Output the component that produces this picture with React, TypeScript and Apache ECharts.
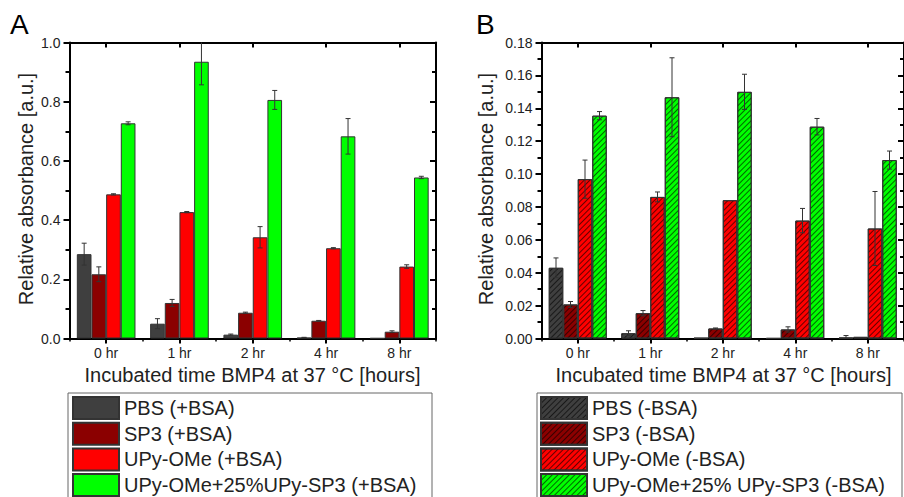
import React, { useEffect, useRef } from "react";
import * as echarts from "echarts";

const categories = ["0 hr", "1 hr", "2 hr", "4 hr", "8 hr"];

// Panel A (+BSA)
const namesA = ["PBS (+BSA)", "SP3 (+BSA)", "UPy-OMe (+BSA)", "UPy-OMe+25%UPy-SP3 (+BSA)"];
const pbsPlus = [0.285, 0.05, 0.013, 0.003, 0.001];
const pbsPlusErr = [0.037, 0.017, 0.002, 0.001, 0];
const sp3Plus = [0.217, 0.12, 0.087, 0.06, 0.023];
const sp3PlusErr = [0.025, 0.012, 0.002, 0.001, 0.003];
const upyPlus = [0.487, 0.427, 0.342, 0.305, 0.243];
const upyPlusErr = [0.002, 0.002, 0.036, 0.002, 0.006];
const mixPlus = [0.727, 0.935, 0.806, 0.683, 0.544];
const mixPlusErr = [0.005, 0.078, 0.032, 0.06, 0.004];

// Panel B (-BSA)
const namesB = ["PBS (-BSA)", "SP3 (-BSA)", "UPy-OMe (-BSA)", "UPy-OMe+25% UPy-SP3 (-BSA)"];
const pbsMinus = [0.043, 0.0032, 0.0003, 0.0001, 0.0005];
const pbsMinusErr = [0.006, 0.0015, 0, 0, 0.0013];
const sp3Minus = [0.0207, 0.0154, 0.0061, 0.0055, 0.001];
const sp3MinusErr = [0.0018, 0.0016, 0.0003, 0.0016, 0];
const upyMinus = [0.0969, 0.0861, 0.0841, 0.0717, 0.0669];
const upyMinusErr = [0.0116, 0.003, 0, 0.0074, 0.0225];
const mixMinus = [0.1355, 0.1467, 0.15, 0.1288, 0.1085];
const mixMinusErr = [0.0025, 0.024, 0.0107, 0.005, 0.0055];

const ticksA = { min: 0, max: 1.0, interval: 0.2 };
const ticksB = { min: 0, max: 0.18, interval: 0.02 };

const colors = ["#3f3f3f", "#8b0000", "#ff0000", "#00ff00"];
const FONT = "'Liberation Sans', Arial, sans-serif";
const TXT = "#222";

export default function App() {
  const ref = useRef<HTMLDivElement>(null);
  useEffect(() => {
    if (!ref.current) return;
    const chart = echarts.init(ref.current, null, { renderer: "svg" });

    const valsA = [pbsPlus, sp3Plus, upyPlus, mixPlus];
    const errsA = [pbsPlusErr, sp3PlusErr, upyPlusErr, mixPlusErr];
    const valsB = [pbsMinus, sp3Minus, upyMinus, mixMinus];
    const errsB = [pbsMinusErr, sp3MinusErr, upyMinusErr, mixMinusErr];

    const grids = [
      { left: 69.5, top: 42.5, width: 366.5, height: 296 },
      { left: 541.5, top: 42.5, width: 367, height: 296 },
    ];

    const xAxes: any[] = [];
    const yAxes: any[] = [];
    [0, 1].forEach((g) => {
      xAxes.push({
        type: "category", gridIndex: g, position: "bottom", data: categories,
        axisLine: { show: true, lineStyle: { color: "#000", width: 2 } },
        axisTick: { show: true, alignWithLabel: true, length: 5, lineStyle: { color: "#000", width: 2 } },
        axisLabel: { fontSize: 14, color: TXT, fontFamily: FONT, margin: 7 },
      });
      xAxes.push({
        type: "category", gridIndex: g, position: "bottom", data: categories,
        axisLine: { show: false },
        axisTick: { show: true, length: 3, lineStyle: { color: "#000", width: 1.5 } },
        axisLabel: { show: false },
      });
      xAxes.push({
        type: "category", gridIndex: g, position: "top", data: categories,
        axisLine: { show: true, lineStyle: { color: "#000", width: 2 } },
        axisTick: { show: true, inside: true, alignWithLabel: true, length: 5, lineStyle: { color: "#000", width: 2 } },
        axisLabel: { show: false },
      });
      const t = g === 0 ? ticksA : ticksB;
      const dec = g === 0 ? 1 : 2;
      yAxes.push({
        type: "value", gridIndex: g, position: "left", ...t,
        axisLine: { show: true, lineStyle: { color: "#000", width: 2 } },
        axisTick: { show: true, length: 6, lineStyle: { color: "#000", width: 2 } },
        minorTick: { show: true, splitNumber: 2, length: 4, lineStyle: { color: "#000", width: 2 } },
        splitLine: { show: false },
        axisLabel: { fontSize: 14, color: TXT, fontFamily: FONT, margin: 9, formatter: (v: number) => v.toFixed(dec) },
      });
      yAxes.push({
        type: "value", gridIndex: g, position: "right", ...t,
        axisLine: { show: true, lineStyle: { color: "#000", width: 2 } },
        axisTick: { show: true, inside: true, length: 6, lineStyle: { color: "#000", width: 2 } },
        minorTick: { show: true, splitNumber: 2, length: 4, lineStyle: { color: "#000", width: 2 } },
        splitLine: { show: false },
        axisLabel: { show: false },
      });
    });

    const series: any[] = [];
    const makeBars = (g: number, names: string[], vals: number[][], hatched: boolean) => {
      names.forEach((n, i) => {
        series.push({
          type: "bar", name: n, xAxisIndex: g * 3, yAxisIndex: g * 2,
          data: vals[i], barGap: "0%", barCategoryGap: "20%",
          itemStyle: {
            color: colors[i], borderColor: "#333", borderWidth: 1,
            decal: hatched
              ? { symbol: "rect", symbolSize: 1, dashArrayX: [1, 0], dashArrayY: [1, 2.6], rotation: -Math.PI / 4, color: "rgba(0,0,0,0.6)" }
              : undefined,
          },
        });
      });
    };
    makeBars(0, namesA, valsA, false);
    makeBars(1, namesB, valsB, true);

    const makeErr = (g: number, vals: number[][], errs: number[][]) => {
      const data: number[][] = [];
      vals.forEach((arr, s) => arr.forEach((v, c) => {
        if (errs[s][c] > 0) data.push([c, v, errs[s][c], s]);
      }));
      series.push({
        type: "custom", xAxisIndex: g * 3, yAxisIndex: g * 2, clip: true, z: 5,
        encode: { x: 0, y: 1 }, data,
        renderItem: (params: any, api: any) => {
          const c = api.value(0), v = api.value(1), e = api.value(2), s = api.value(3);
          const band = api.size([1, 0])[0];
          const bw = (band * 0.8) / 4;
          const x = api.coord([c, v])[0] + (s - 1.5) * bw;
          const yT = api.coord([c, v + e])[1];
          const yB = api.coord([c, Math.max(0, v - e)])[1];
          const st = { stroke: "#333", lineWidth: 1 };
          return {
            type: "group",
            children: [
              { type: "line", shape: { x1: x, y1: yT, x2: x, y2: yB }, style: st },
              { type: "line", shape: { x1: x - 2.5, y1: yT, x2: x + 2.5, y2: yT }, style: st },
              { type: "line", shape: { x1: x - 2.5, y1: yB, x2: x + 2.5, y2: yB }, style: st },
            ],
          };
        },
      });
    };
    makeErr(0, valsA, errsA);
    makeErr(1, valsB, errsB);

    const legendBase = {
      orient: "vertical", icon: "rect", itemWidth: 46, itemHeight: 22, itemGap: 0, padding: 0,
      height: 40, width: 380,
      textStyle: { fontSize: 20, color: TXT, fontFamily: FONT },
      selectedMode: false,
    };
    const legends: any[] = [];
    namesA.forEach((n, i) => legends.push({ ...legendBase, data: [n], left: 72, top: 396 + i * 25.7 }));
    namesB.forEach((n, i) => legends.push({ ...legendBase, data: [n], left: 540, top: 396 + i * 25.7 }));

    const option: any = {
      animation: false,
      backgroundColor: "#fff",
      grid: grids,
      xAxis: xAxes,
      yAxis: yAxes,
      legend: legends,
      series,
      graphic: [
        { type: "rect", shape: { x: 68, y: 393, width: 364, height: 130 }, style: { fill: "none", stroke: "#666", lineWidth: 1 } },
        { type: "rect", shape: { x: 537, y: 393, width: 365, height: 130 }, style: { fill: "none", stroke: "#666", lineWidth: 1 } },
        { type: "text", left: 10, top: 10, style: { text: "A", fontSize: 28, fill: "#000", fontFamily: FONT } },
        { type: "text", left: 476, top: 10, style: { text: "B", fontSize: 28, fill: "#000", fontFamily: FONT } },
        { type: "text", x: 252.5, y: 375, style: { text: "Incubated time BMP4 at 37 °C [hours]", fontSize: 20, fill: TXT, fontFamily: FONT, align: "center", verticalAlign: "middle" } },
        { type: "text", x: 723.5, y: 375, style: { text: "Incubated time BMP4 at 37 °C [hours]", fontSize: 20, fill: TXT, fontFamily: FONT, align: "center", verticalAlign: "middle" } },
        { type: "text", x: 26, y: 189, rotation: Math.PI / 2, style: { text: "Relative absorbance [a.u.]", fontSize: 20, fill: TXT, fontFamily: FONT, align: "center", verticalAlign: "middle" } },
        { type: "text", x: 486, y: 189, rotation: Math.PI / 2, style: { text: "Relative absorbance [a.u.]", fontSize: 20, fill: TXT, fontFamily: FONT, align: "center", verticalAlign: "middle" } },
      ],
    };
    chart.setOption(option);
    return () => chart.dispose();
  }, []);
  return <div ref={ref} style={{ position: "fixed", left: 0, top: 0, width: 904, height: 497 }} />;
}
